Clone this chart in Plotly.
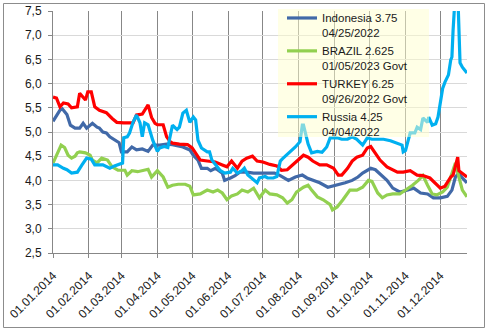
import plotly.graph_objects as go

# ---------------- data ----------------
idn_dates = ["2014-01-01","2014-01-03","2014-01-05","2014-01-07","2014-01-09","2014-01-10","2014-01-13",
             "2014-01-16","2014-01-20","2014-01-24","2014-01-27","2014-01-30","2014-02-02","2014-02-04",
             "2014-02-08","2014-02-10","2014-02-13","2014-02-16","2014-02-19","2014-02-21","2014-02-25",
             "2014-02-27","2014-03-01","2014-03-06","2014-03-10","2014-03-14","2014-03-19","2014-03-24",
             "2014-03-28","2014-04-03","2014-04-09","2014-04-14","2014-04-23","2014-04-29","2014-05-02",
             "2014-05-06","2014-05-09","2014-05-14","2014-05-17","2014-05-21","2014-05-27","2014-05-29",
             "2014-06-03","2014-06-07","2014-06-11","2014-06-17","2014-06-23","2014-06-28","2014-07-05",
             "2014-07-11","2014-07-16","2014-07-23","2014-07-29","2014-08-04","2014-08-08","2014-08-13",
             "2014-08-19","2014-08-26","2014-09-03","2014-09-10","2014-09-16","2014-09-21","2014-09-25",
             "2014-10-02","2014-10-06","2014-10-09","2014-10-16","2014-10-21","2014-10-27","2014-11-03",
             "2014-11-08","2014-11-14","2014-11-20","2014-11-25","2014-12-01","2014-12-07","2014-12-11",
             "2014-12-14","2014-12-17","2014-12-20","2014-12-24"]
idn_vals = [5.22,5.30,5.39,5.45,5.48,5.45,5.36,
            5.14,5.08,5.08,5.18,5.08,5.15,5.18,
            5.10,5.08,5.00,4.98,4.90,4.87,4.80,
            4.78,4.59,4.59,4.69,4.63,4.65,4.60,
            4.73,4.73,4.75,4.74,4.69,4.63,4.52,
            4.42,4.25,4.25,4.20,4.25,4.15,4.00,
            4.05,4.10,4.17,4.17,4.15,4.15,4.15,
            4.15,4.10,4.00,4.07,4.11,4.05,4.00,
            3.95,3.86,3.90,3.95,4.00,4.07,4.15,
            4.25,4.22,4.15,4.00,3.84,3.76,3.80,
            3.84,3.74,3.72,3.64,3.64,3.67,3.80,
            4.07,4.15,4.05,3.95]

bra_dates = ["2014-01-01","2014-01-03","2014-01-05","2014-01-08","2014-01-10","2014-01-11","2014-01-14",
             "2014-01-17","2014-01-20","2014-01-22","2014-01-24","2014-01-29","2014-02-02","2014-02-04",
             "2014-02-08","2014-02-12","2014-02-17","2014-02-21","2014-02-26","2014-03-04","2014-03-06",
             "2014-03-10","2014-03-15","2014-03-19","2014-03-24","2014-03-27","2014-04-01","2014-04-06",
             "2014-04-10","2014-04-14","2014-04-19","2014-04-25","2014-04-29","2014-05-02","2014-05-08",
             "2014-05-14","2014-05-19","2014-05-23","2014-05-27","2014-05-31","2014-06-04","2014-06-09",
             "2014-06-13","2014-06-18","2014-06-23","2014-06-28","2014-07-03","2014-07-07","2014-07-13",
             "2014-07-18","2014-07-22","2014-07-26","2014-07-30","2014-08-05","2014-08-09","2014-08-12",
             "2014-08-17","2014-08-22","2014-08-28","2014-08-30","2014-09-03","2014-09-08","2014-09-14",
             "2014-09-20","2014-09-25","2014-09-30","2014-10-03","2014-10-08","2014-10-12","2014-10-16",
             "2014-10-21","2014-10-27","2014-11-01","2014-11-07","2014-11-12","2014-11-16","2014-11-20",
             "2014-11-24","2014-11-28","2014-12-03","2014-12-07","2014-12-11","2014-12-14","2014-12-17",
             "2014-12-20","2014-12-24"]
bra_vals = [4.36,4.45,4.57,4.73,4.70,4.68,4.52,
            4.46,4.50,4.57,4.59,4.57,4.52,4.42,
            4.36,4.46,4.42,4.28,4.21,4.21,4.11,
            4.20,4.18,4.20,4.23,4.07,4.20,4.07,
            3.86,3.90,3.92,3.92,3.88,3.70,3.72,
            3.80,3.76,3.80,3.74,3.60,3.68,3.72,
            3.80,3.76,3.84,3.64,3.80,3.72,3.70,
            3.64,3.53,3.60,3.76,3.86,3.90,3.80,
            3.66,3.60,3.50,3.39,3.45,3.60,3.80,
            3.80,3.86,4.00,3.98,3.74,3.64,3.70,
            3.72,3.72,3.80,3.90,4.00,4.10,3.90,
            3.72,3.70,3.76,3.86,4.15,4.36,4.07,
            3.80,3.66]

tur_dates = ["2014-01-01","2014-01-04","2014-01-07","2014-01-10","2014-01-14","2014-01-17","2014-01-22",
             "2014-01-24","2014-01-29","2014-01-31","2014-02-03","2014-02-06","2014-02-10","2014-02-16",
             "2014-02-21","2014-02-25","2014-03-03","2014-03-11","2014-03-14","2014-03-19","2014-03-24",
             "2014-03-27","2014-03-30","2014-04-01","2014-04-06","2014-04-09","2014-04-12","2014-04-14",
             "2014-04-20","2014-04-27","2014-05-01","2014-05-05","2014-05-08","2014-05-14","2014-05-21",
             "2014-05-27","2014-05-31","2014-06-04","2014-06-09","2014-06-13","2014-06-17","2014-06-22",
             "2014-06-26","2014-07-01","2014-07-07","2014-07-13","2014-07-17","2014-07-22","2014-07-26",
             "2014-07-31","2014-08-05","2014-08-09","2014-08-13","2014-08-19","2014-08-25","2014-08-31",
             "2014-09-04","2014-09-07","2014-09-12","2014-09-16","2014-09-20","2014-09-25","2014-09-29",
             "2014-10-02","2014-10-06","2014-10-10","2014-10-16","2014-10-25","2014-10-30","2014-11-05",
             "2014-11-11","2014-11-16","2014-11-22","2014-11-28","2014-12-01","2014-12-05","2014-12-10",
             "2014-12-12","2014-12-16","2014-12-17","2014-12-20","2014-12-24"]
tur_vals = [5.72,5.70,5.52,5.60,5.58,5.50,5.52,
            5.80,5.66,5.83,5.83,5.52,5.45,5.40,
            5.28,5.20,5.19,5.19,5.35,5.37,5.56,
            5.30,5.18,5.15,5.15,4.90,4.80,4.77,
            4.75,4.74,4.67,4.52,4.42,4.40,4.38,
            4.32,4.28,4.40,4.25,4.40,4.46,4.50,
            4.40,4.38,4.33,4.30,4.21,4.22,4.30,
            4.42,4.52,4.48,4.40,4.32,4.32,4.25,
            4.11,4.11,4.25,4.40,4.48,4.52,4.67,
            4.70,4.55,4.42,4.28,4.17,4.17,4.20,
            4.11,4.10,4.05,3.90,3.84,3.88,4.07,
            4.11,4.48,4.20,4.15,4.07]

rus_dates = ["2014-01-01","2014-01-05","2014-01-10","2014-01-13","2014-01-17","2014-01-22","2014-01-26",
             "2014-01-30","2014-02-03","2014-02-06","2014-02-13","2014-02-19","2014-02-23","2014-02-26",
             "2014-03-02","2014-03-03","2014-03-06","2014-03-08","2014-03-11","2014-03-14","2014-03-17",
             "2014-03-19","2014-03-21","2014-03-24","2014-03-28","2014-04-01","2014-04-03","2014-04-07",
             "2014-04-10","2014-04-14","2014-04-18","2014-04-20","2014-04-23","2014-04-26","2014-04-29",
             "2014-05-02","2014-05-04","2014-05-06","2014-05-09","2014-05-14","2014-05-16","2014-05-18",
             "2014-05-21","2014-05-25","2014-05-29","2014-06-03","2014-06-05","2014-06-09","2014-06-13",
             "2014-06-15","2014-06-18","2014-06-23","2014-06-26","2014-06-28","2014-07-03","2014-07-05",
             "2014-07-10","2014-07-13","2014-07-16","2014-07-18","2014-07-23","2014-07-29","2014-08-02",
             "2014-08-04","2014-08-05","2014-08-07","2014-08-09","2014-08-12","2014-08-17","2014-08-21",
             "2014-08-25","2014-08-28","2014-09-03","2014-09-07","2014-09-12","2014-09-16","2014-09-20",
             "2014-09-25","2014-09-29","2014-10-03","2014-10-08","2014-10-13","2014-10-19","2014-10-25",
             "2014-10-29","2014-10-30","2014-11-01","2014-11-03","2014-11-05","2014-11-09","2014-11-11",
             "2014-11-14","2014-11-16","2014-11-20","2014-11-21","2014-11-24","2014-11-27","2014-11-29",
             "2014-12-01","2014-12-03","2014-12-05","2014-12-08","2014-12-10","2014-12-11","2014-12-12",
             "2014-12-14","2014-12-16","2014-12-17","2014-12-18","2014-12-20","2014-12-23","2014-12-24"]
rus_vals = [4.32,4.32,4.25,4.22,4.15,4.17,4.32,
            4.46,4.44,4.32,4.32,4.25,4.30,4.32,
            4.36,4.88,4.90,4.98,5.20,5.35,5.19,
            4.90,5.19,5.15,4.83,4.60,4.67,4.70,
            4.68,5.14,5.05,5.10,5.39,5.45,5.20,
            5.31,5.25,4.83,4.67,4.59,4.59,4.42,
            4.32,4.21,4.15,4.17,4.25,4.15,4.20,
            4.25,4.11,4.00,3.95,4.05,4.08,4.05,
            4.05,4.08,4.40,4.45,4.55,4.69,4.80,
            5.14,5.14,4.94,4.75,4.57,4.60,4.58,
            4.69,4.88,4.88,4.85,4.85,4.90,4.85,
            4.73,4.88,4.85,4.85,4.85,4.82,4.77,
            4.73,4.59,4.62,4.80,4.98,4.98,5.10,
            5.05,5.29,5.20,5.31,5.14,5.17,5.31,
            5.66,5.90,6.03,6.18,6.49,6.55,7.10,
            7.90,7.90,6.96,6.43,6.34,6.24,6.22]

series_names = ["Indonesia 3.75<br>04/25/2022",
                "BRAZIL 2.625<br>01/05/2023 Govt",
                "TURKEY 6.25<br>09/26/2022 Govt",
                "Russia 4.25<br>04/04/2022"]
series_colors = ["#4169A8", "#92D050", "#FF0000", "#00B0F0"]
series_x = [idn_dates, bra_dates, tur_dates, rus_dates]
series_y = [idn_vals, bra_vals, tur_vals, rus_vals]

# ---------------- figure ----------------
FONT = "Liberation Sans"
FIG_W, FIG_H = 488, 331
L, R, B = 53, 467, 253          # plot-area left/right/bottom in pixels
PLOT_TOP = 11                   # plot-area top in pixels
MT = 4                          # small top margin so the legend can sit high
PAPER_H = B - MT

def px_x(p):
    return (p - L) / (R - L)

def px_y(p):
    return (B - p) / PAPER_H

fig = go.Figure()
for nm, col, xs, ys in zip(series_names, series_colors, series_x, series_y):
    fig.add_trace(go.Scatter(x=xs, y=ys, mode="lines", name=nm,
                             line=dict(color=col, width=3.2)))

fig.update_layout(
    width=FIG_W, height=FIG_H,
    margin=dict(l=L, r=FIG_W - R, t=MT, b=FIG_H - B, pad=0),
    paper_bgcolor="white", plot_bgcolor="white",
    separators=", ",
    font=dict(family=FONT, size=12, color="#1a1a1a"),
    showlegend=True,
    legend=dict(
        x=px_x(282), y=px_y(4), xanchor="left", yanchor="top",
        bgcolor="rgba(0,0,0,0)", borderwidth=0,
        font=dict(family=FONT, size=11.5, color="#1a1a1a"),
        valign="top", tracegroupgap=0, itemwidth=30,
    ),
    xaxis=dict(
        type="date", range=["2014-01-01", "2014-12-24"],
        tick0="2014-01-01", dtick="M1", tickformat="%d.%m.%Y",
        tickangle=-45, showgrid=True, gridcolor="#878787", gridwidth=1,
        showline=True, linecolor="#878787", linewidth=1,
        ticks="outside", ticklen=4, tickcolor="#878787",
        tickfont=dict(family=FONT, size=12, color="#1a1a1a"),
        ticklabelstandoff=6,
        zeroline=False, automargin=False,
    ),
    yaxis=dict(
        domain=[0, px_y(PLOT_TOP)],
        range=[2.5, 7.5], tick0=2.5, dtick=0.5, tickformat=".1f",
        showgrid=True, gridcolor="#D9D9D9", gridwidth=1,
        showline=True, linecolor="#878787", linewidth=1,
        ticks="outside", ticklen=4, tickcolor="#878787",
        tickfont=dict(family=FONT, size=12, color="#1a1a1a"),
        ticklabelstandoff=4,
        zeroline=False, automargin=False,
    ),
    shapes=[
        # outer chart frame
        dict(type="rect", xref="paper", yref="paper",
             x0=px_x(3.5), x1=px_x(484.5), y0=px_y(327.5), y1=px_y(3.5),
             line=dict(color="#8C8C8C", width=1), fillcolor="rgba(0,0,0,0)",
             layer="below"),
        # semi-transparent legend background
        dict(type="rect", xref="paper", yref="paper",
             x0=px_x(278), x1=px_x(429), y0=px_y(137), y1=px_y(9),
             line=dict(width=0), fillcolor="rgba(255,255,205,0.5)",
             layer="above"),
    ],
)

fig.write_html("out.html")
